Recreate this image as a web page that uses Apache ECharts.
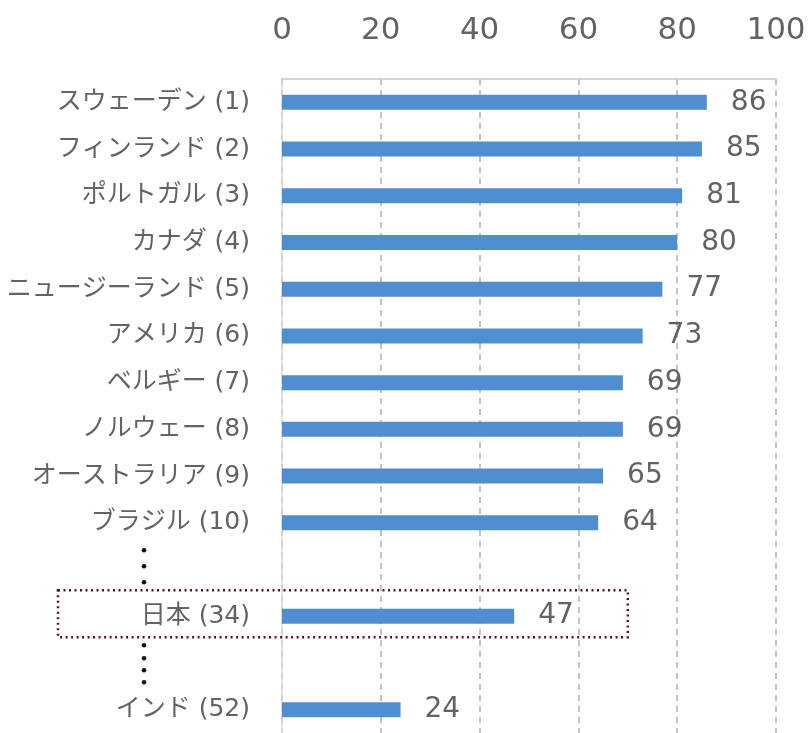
<!DOCTYPE html>
<html>
<head>
<meta charset="utf-8">
<script src="https://cdn.jsdelivr.net/npm/echarts@6/dist/echarts.min.js"></script>
<style>
html,body{margin:0;padding:0;background:#fff;}
#chart{width:812px;height:733px;}
</style>
</head>
<body>
<div id="chart"></div>
<script>
const categories = ['スウェーデン (1)','フィンランド (2)','ポルトガル (3)','カナダ (4)','ニュージーランド (5)','アメリカ (6)','ベルギー (7)','ノルウェー (8)','オーストラリア (9)','ブラジル (10)','','日本 (34)','','インド (52)'];
const values = [86,85,81,80,77,73,69,69,65,64,null,47,null,24];
const xTicks = [0,20,40,60,80,100];

const FONT = '"DejaVu Sans", "Noto Sans CJK JP", sans-serif';
const TXT = '#636363';
const chart = echarts.init(document.getElementById('chart'));
chart.setOption({
  backgroundColor:'#ffffff',
  animation:false,
  grid:{left:282, top:79, width:494, height:658, containLabel:false},
  xAxis:{
    type:'value', position:'top', min:xTicks[0], max:xTicks[xTicks.length-1], interval:20,
    axisLine:{show:true, lineStyle:{color:'#c8c8c8', width:1.5}},
    axisTick:{show:false},
    axisLabel:{color:TXT, fontSize:31, fontFamily:FONT, margin:33},
    splitLine:{show:true, lineStyle:{color:'#b0b0b0', type:[6,5], width:1.5}}
  },
  yAxis:{
    type:'category', inverse:true, data:categories,
    axisLine:{show:true, lineStyle:{color:'#d9d9d9', width:1.5}},
    axisTick:{show:false},
    axisLabel:{color:TXT, fontSize:25, fontFamily:FONT, margin:32, interval:0}
  },
  series:[{
    type:'bar', data:values, barWidth:15,
    itemStyle:{color:'#4F8FD1'},
    label:{show:true, position:'right', distance:24, color:TXT, fontSize:28, fontFamily:FONT}
  }]
});

// annotations: dotted box around Japan row and vertical ellipsis dots
const yJ = chart.convertToPixel({yAxisIndex:0}, '日本 (34)');
const xR = chart.convertToPixel({xAxisIndex:0}, 70);
const dots = [];
[yJ-66, yJ-50, yJ-34, yJ+29, yJ+42, yJ+54, yJ+66].forEach(function(y){
  dots.push({type:'circle', z:100, shape:{cx:144, cy:y, r:2.3}, style:{fill:'#111'}});
});
chart.setOption({
  graphic:[{
    type:'rect', z:100,
    shape:{x:58, y:yJ-26, width:xR-58, height:47},
    style:{fill:'none', stroke:'#5e1212', lineWidth:2.5, lineDash:[2,3.5]}
  }].concat(dots)
});
</script>
</body>
</html>
